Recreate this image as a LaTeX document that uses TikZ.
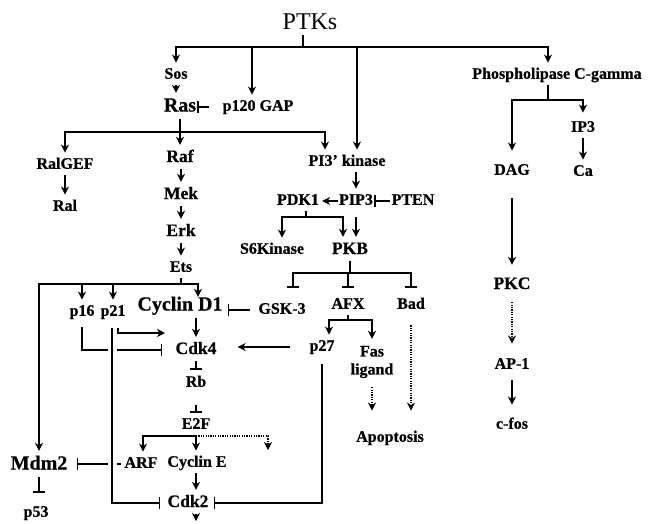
\documentclass[tikz,border=0pt]{standalone}
\usepackage{fontspec}
\setmainfont{Liberation Serif}[BoldFeatures={FakeBold=0.6}]
\usepackage{tikz}
\usetikzlibrary{arrows.meta, positioning, calc}
\tikzset{
  lbl/.style     = {inner xsep=1pt, inner ysep=3pt, font=\bfseries\fontsize{16}{18}\selectfont,
                    text height=11pt, text depth=3.5pt},
  lblmid/.style  = {lbl, font=\bfseries\fontsize{17.5}{20}\selectfont,
                    text height=12pt, text depth=4pt},
  lblbig/.style  = {lbl, font=\bfseries\fontsize{20}{22}\selectfont,
                    text height=13.5pt, text depth=4.5pt},
  flow/.style    = {-{Stealth[length=8pt, width=8pt, inset=2.5pt]}, line width=1.7pt, shorten >=2pt},
  dotflow/.style = {flow, line width=1.5pt, dash pattern=on 1.2pt off 1.2pt},
  inhib/.style   = {-{Bar[width=12pt]}, line width=1.7pt},
  bus/.style     = {line width=1.7pt},
  bridge/.style  = {preaction={draw=white, line width=9pt, -}},
}
\begin{document}
\begin{tikzpicture}[x=1pt, y=-1pt]
\useasboundingbox (0,0) rectangle (648,523);

\node[inner sep=1pt, font=\fontsize{24}{26}\selectfont] (PTKs) at (310,22) {PTKs};
\node[lbl] (Sos) at (176,75) {Sos};
\node[lblbig] (Ras) at (180,107) {Ras};
\node[lbl] (GAP) at (258,107) {p120 GAP};
\node[lbl] (PLC) at (557,75) {Phospholipase C-gamma};

\node[lbl] (RalGEF) at (65,165) {RalGEF};
\node[lbl] (Ral) at (65,207) {Ral};
\node[lblmid] (Raf) at (180,158) {Raf};
\node[lblmid] (Mek) at (181,195) {Mek};
\node[lblmid] (Erk) at (181,232) {Erk};
\node[lbl] (Ets) at (181,268) {Ets};
\node[lbl] (PI3K) at (347,162) {PI3' kinase};
\node[lbl] (PDK1) at (298,201) {PDK1};
\node[lbl] (PIP3) at (356,201) {PIP3};
\node[lbl] (PTEN) at (413,201) {PTEN};
\node[lbl] (S6K) at (272,250) {S6Kinase};
\node[lblmid] (PKB) at (350,250) {PKB};

\node[lbl] (DAG) at (512,171) {DAG};
\node[lbl] (IP3) at (583,128) {IP3};
\node[lbl] (Ca) at (583,172) {Ca};
\node[lblmid] (PKC) at (512,285) {PKC};
\node[lbl] (AP1) at (512,365) {AP-1};
\node[lbl] (cfos) at (512,425) {c-fos};

\node[lbl] (p16) at (82,312) {p16};
\node[lbl] (p21) at (113,312) {p21};
\node[lblbig] (CycD) at (180,306) {Cyclin D1};
\node[lbl] (GSK) at (282,310) {GSK-3};
\node[lbl] (AFX) at (348,305) {AFX};
\node[lbl] (Bad) at (411,305) {Bad};
\node[lblmid] (Cdk4) at (196,350) {Cdk4};
\node[lbl] (p27) at (322,347) {p27};
\node[lbl, align=center, text height=, text depth=] (Fas) at (372,362) {Fas\\ligand};
\node[lbl] (Apop) at (390,438) {Apoptosis};
\node[lbl] (Rb) at (196,383) {Rb};
\node[lbl] (E2F) at (196,425) {E2F};
\node[lbl] (ARF) at (141,464) {ARF};
\node[lbl] (CycE) at (197,463) {Cyclin E};
\node[lblbig] (Mdm2) at (39,465) {Mdm2};
\node[lbl] (p53) at (36,513) {p53};
\node[lblmid] (Cdk2) at (188,503) {Cdk2};

\coordinate (tb) at (303,47);
\coordinate (rb) at (180,132);
\coordinate (eb) at (181,284);
\coordinate (db) at (306,217);
\coordinate (kb) at (350,273);
\coordinate (ab) at (348,320);
\coordinate (pb) at (548,100);
\coordinate (fb) at (196,436);
\coordinate (p21end) at (167,333);
\coordinate (e2fend) at (268,452);
\coordinate (cdkend) at (196,523);

% receptor level
\draw[bus, shorten <=4pt] (PTKs.south -| tb) -- (tb);
\draw[flow] (tb) -| (Sos.north);
\draw[flow] (tb) -| ([xshift=-6pt]GAP.north);
\draw[flow] (tb) -| ([xshift=10pt]PI3K.north);
\draw[flow] (tb) -| ([xshift=-9pt]PLC.north);
\draw[flow] (Sos.south) -- (Sos.south |- Ras.north);
\draw[inhib, shorten <=12pt] (GAP.west) -- (Ras.east);

% Ras branch
\draw[bus] (Ras.south -| rb) -- (rb);
\draw[flow] (rb) -| (RalGEF.north);
\draw[flow] (rb) -- (Raf.north);
\draw[flow] (rb) -| ([xshift=-22pt]PI3K.north);
\draw[flow] (RalGEF) -- (Ral);
\draw[flow] (Raf.south -| Mek) -- (Mek.north);
\draw[flow] (Mek) -- (Erk);
\draw[flow] (Erk) -- (Ets);

% PI3 kinase branch
\draw[flow] (PI3K.south -| PIP3) -- (PIP3.north);
\draw[flow] (PIP3) -- (PDK1);
\draw[inhib] (PTEN) -- (PIP3);
\draw[bus] (PDK1.south -| db) -- (db);
\draw[flow] (db) -| ([xshift=10pt]S6K.north);
\draw[flow] (db) -| ([xshift=-7pt]PKB.north);
\draw[flow, shorten <=6pt] (PIP3.south) -- (PIP3.south |- PKB.north);
\draw[bus] (PKB.south -| kb) -- (kb);
\draw[inhib, shorten >=12pt] (kb) -| ([xshift=11pt]GSK.north);
\draw[inhib, shorten >=7pt] (kb) -| (AFX.north);
\draw[inhib, shorten >=7pt] (kb) -| (Bad.north);
\draw[bus] (AFX.south -| ab) -- (ab);
\draw[flow] (ab) -| ([xshift=7pt]p27.north);
\draw[flow, shorten >=4pt] (ab) -| (Fas.north);
\draw[dotflow, shorten <=6pt, shorten >=17pt] (Fas.south) -- (Fas.south |- Apop.north);
\draw[dotflow, shorten <=10pt, shorten >=17pt] (Bad.south) -- (Bad.south |- Apop.north);

% cell cycle
\draw[bus] (Ets.south -| eb) -- (eb);
\draw[flow] (eb) -| (Mdm2.north);
\draw[flow] (eb) -| (p16.north);
\draw[flow] (eb) -| (p21.north);
\draw[flow, shorten >=-3pt] (eb) -| ([xshift=18pt]CycD.north);
\draw[inhib, shorten <=7pt, shorten >=4pt] (GSK.west) -- (GSK.west -| CycD.east);
\draw[flow] (Cdk4 |- CycD.south) -- (Cdk4.north);
\draw[flow, shorten <=18pt, shorten >=20pt] (p27.west) -- (p27.west -| Cdk4.east);
\draw[inhib, shorten <=5pt, shorten >=12pt] (p16.south) |- (Cdk4.west);
\draw[inhib, shorten <=2pt, shorten >=8pt] (ARF.west) -- (ARF.west -| Mdm2.east);
\draw[inhib, bridge, shorten <=6pt, shorten >=6pt] ([xshift=-1pt]p21.south) |- (Cdk2.west);
\draw[flow, shorten <=6pt] ([xshift=5pt]p21.south) |- (p21end);
\draw[inhib, shorten <=7pt, shorten >=4pt] (p27.south) |- (Cdk2.east);
\draw[inhib, shorten >=3pt] (Rb |- Cdk4.south) -- (Rb.north);
\draw[inhib, shorten <=12pt, shorten >=2pt] (Rb) -- (E2F);
\draw[bus] (E2F.south) -- (fb);
\draw[flow] (fb) -| ([xshift=2pt]ARF.north);
\draw[flow] (fb) -- (fb |- CycE.north);
\draw[dotflow] (fb) -| (e2fend);
\draw[flow] (fb |- CycE.south) -- (fb |- Cdk2.north);
\draw[flow] (Cdk2.south -| cdkend) -- (cdkend);
\draw[inhib, shorten >=10pt] (Mdm2.south) -- (Mdm2.south |- p53.north);

% phospholipase branch
\draw[bus] (PLC.south -| pb) -- (pb);
\draw[flow, shorten >=10pt] (pb) -| (DAG.north);
\draw[flow, shorten >=5pt] (pb) -| (IP3.north);
\draw[flow] (IP3) -- (Ca);
\draw[flow, shorten <=17pt, shorten >=9pt] (DAG) -- (PKC);
\draw[dotflow, shorten <=6pt, shorten >=11pt] (PKC) -- (AP1);
\draw[flow, shorten <=5pt, shorten >=10pt] (AP1) -- (cfos);
\end{tikzpicture}
\end{document}
